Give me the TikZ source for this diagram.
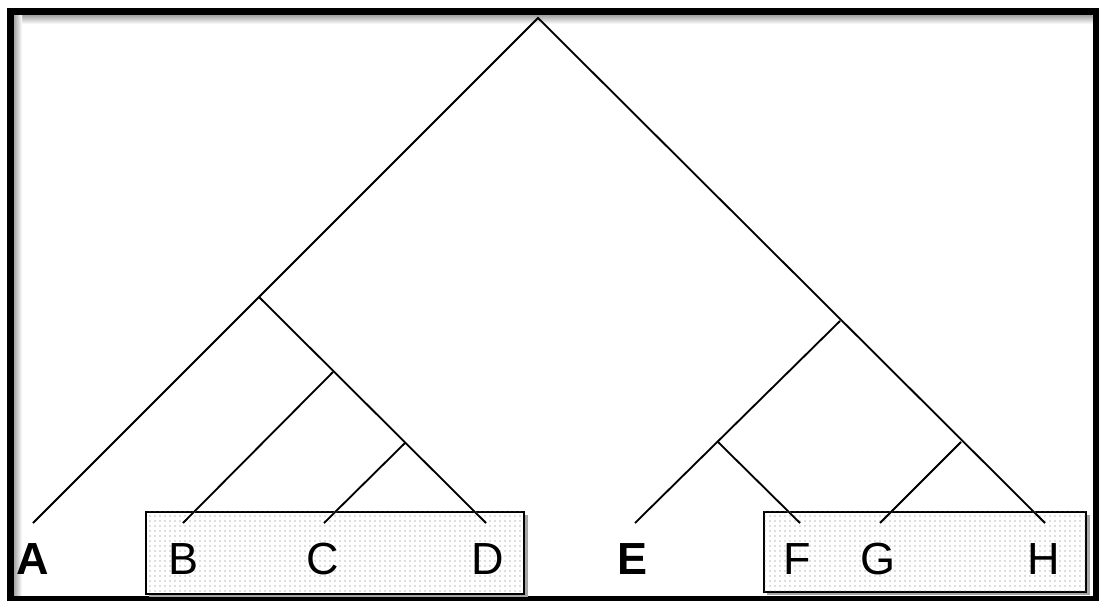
\documentclass[tikz,border=0pt]{standalone}
\usepackage{fontspec}
\setmainfont{Liberation Sans}
\usetikzlibrary{patterns.meta}
\begin{document}
\begin{tikzpicture}[x=1pt,y=-1pt,
  branch/.style={line width=1.8pt, black},
  shade/.style={line width=2pt, black!12},
  leaf/.style={font=\fontsize{45}{50}\selectfont, inner sep=0pt, anchor=center},
  boldleaf/.style={leaf, font=\fontsize{45}{50}\selectfont\bfseries},
  groupbox/.style={draw=black, line width=1.6pt, fill=white,
    postaction={pattern={Dots[distance=5pt,radius=0.55pt]}, pattern color=black!55}},
  boxshadow/.style={fill=black!35}]
\useasboundingbox (0,0) rectangle (1099,601);
% frame
\shade[top color=black!35, bottom color=white] (14,15.5) rectangle (1092.5,24);
\shade[left color=black!35, right color=white] (14,15.5) rectangle (22,595);
\draw[line width=7pt] (10.5,12) rectangle (1096,599.5);
% group boxes with shadows
\fill[boxshadow] (149,515) rectangle (528,597);
\node[groupbox, minimum width=378pt, minimum height=82pt, inner sep=0pt, anchor=north west] (bcd) at (145,511) {};
\fill[boxshadow] (767,515) rectangle (1090,595);
\node[groupbox, minimum width=322pt, minimum height=80pt, inner sep=0pt, anchor=north west] (fgh) at (763,511) {};
% junctions
\coordinate (root) at (538,18);
\coordinate (nABD) at (259,297);
\coordinate (nBD) at (333,372);
\coordinate (nCD) at (405,443);
\coordinate (nEH) at (840,321);
\coordinate (nEF) at (718,442);
\coordinate (nGH) at (961,442);
% leaf ends
\coordinate (lA) at (33,523);
\coordinate (lB) at (183,523);
\coordinate (lC) at (324,523);
\coordinate (lD) at (486,523);
\coordinate (lE) at (635,523);
\coordinate (lF) at (800,523);
\coordinate (lG) at (880,523);
\coordinate (lH) at (1045,523);
% faint line shadows
\begin{scope}[shift={(3,4)}]
\draw[shade] (lA) -- (root) -- (lH);
\draw[shade] (nABD) -- (lD);
\draw[shade] (nBD) -- (lB);
\draw[shade] (nCD) -- (lC);
\draw[shade] (nEH) -- (lE);
\draw[shade] (nEF) -- (lF);
\draw[shade] (nGH) -- (lG);
\end{scope}
% branches
\draw[branch] (lA) -- (root) -- (lH);
\draw[branch] (nABD) -- (lD);
\draw[branch] (nBD) -- (lB);
\draw[branch] (nCD) -- (lC);
\draw[branch] (nEH) -- (lE);
\draw[branch] (nEF) -- (lF);
\draw[branch] (nGH) -- (lG);
% labels
\node[boldleaf] (A) at (33,559) {A};
\node[leaf] (B) at (184,559) {B};
\node[leaf] (C) at (323,559) {C};
\node[leaf] (D) at (488,559) {D};
\node[boldleaf] (E) at (632,559) {E};
\node[leaf] (F) at (797,559) {F};
\node[leaf] (G) at (878,559) {G};
\node[leaf] (H) at (1044,559) {H};
\end{tikzpicture}
\end{document}
